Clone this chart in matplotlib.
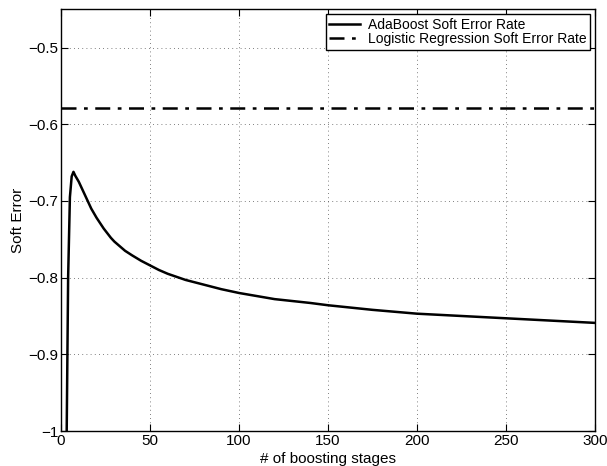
import matplotlib
matplotlib.use("Agg")
import matplotlib.pyplot as plt

plt.rcParams['font.family'] = ['Liberation Sans', 'DejaVu Sans']

# boosting stages and AdaBoost soft error
stages = [1, 2, 3, 4, 5, 6, 7, 8, 9, 10, 11, 12, 13, 14, 15, 16, 17, 18, 19, 20,
          22, 24, 26, 28, 30, 33, 36, 40, 45, 50, 55, 60, 70, 80, 90, 100, 120, 140,
          150, 175, 200, 225, 250, 275, 300]
ada_err = [-1.6, -1.25, -1.05, -0.80, -0.695, -0.668, -0.662, -0.667, -0.671, -0.675,
           -0.680, -0.685, -0.690, -0.695, -0.700, -0.705, -0.710, -0.714, -0.718, -0.722,
           -0.729, -0.736, -0.742, -0.748, -0.753, -0.759, -0.765, -0.771, -0.778, -0.784,
           -0.790, -0.795, -0.803, -0.809, -0.815, -0.820, -0.828, -0.833,
           -0.836, -0.842, -0.847, -0.850, -0.853, -0.856, -0.859]
logreg_err = -0.579

x_ticks = [0, 50, 100, 150, 200, 250, 300]
y_ticks = [-1, -0.9, -0.8, -0.7, -0.6, -0.5]
y_tick_labels = ['\u22121', '\u22120.9', '\u22120.8', '\u22120.7', '\u22120.6', '\u22120.5']

fig = plt.figure(figsize=(6.07, 4.66), dpi=100)
ax = fig.add_axes([0.1005, 0.0751, 0.8797, 0.905])

ax.plot(stages, ada_err, '-', color='black', lw=1.8, label='AdaBoost Soft Error Rate')
ax.axhline(logreg_err, color='black', lw=1.8, linestyle=(0, (6, 3, 1.5, 3)),
           label='Logistic Regression Soft Error Rate')

ax.set_xlim(0, 300)
ax.set_ylim(-1, -0.45)
ax.set_xticks(x_ticks)
ax.set_yticks(y_ticks)
ax.set_yticklabels(y_tick_labels)
ax.grid(True, color='#555555', linestyle=(0, (1, 4)), lw=0.6)
ax.tick_params(direction='in', top=True, right=True, labelsize=11, length=5, pad=2)
for s in ax.spines.values():
    s.set_linewidth(1.0)

ax.set_xlabel('# of boosting stages', fontsize=11, labelpad=3)
ax.set_ylabel('Soft Error', fontsize=11, labelpad=2)

leg = ax.legend(loc='upper right', fontsize=10, fancybox=False, framealpha=1,
                edgecolor='black', borderaxespad=0.35, handlelength=2.2,
                borderpad=0.25, labelspacing=0.05, handletextpad=0.6)
leg.get_frame().set_linewidth(1.0)

fig.savefig('out.png', dpi=100)
